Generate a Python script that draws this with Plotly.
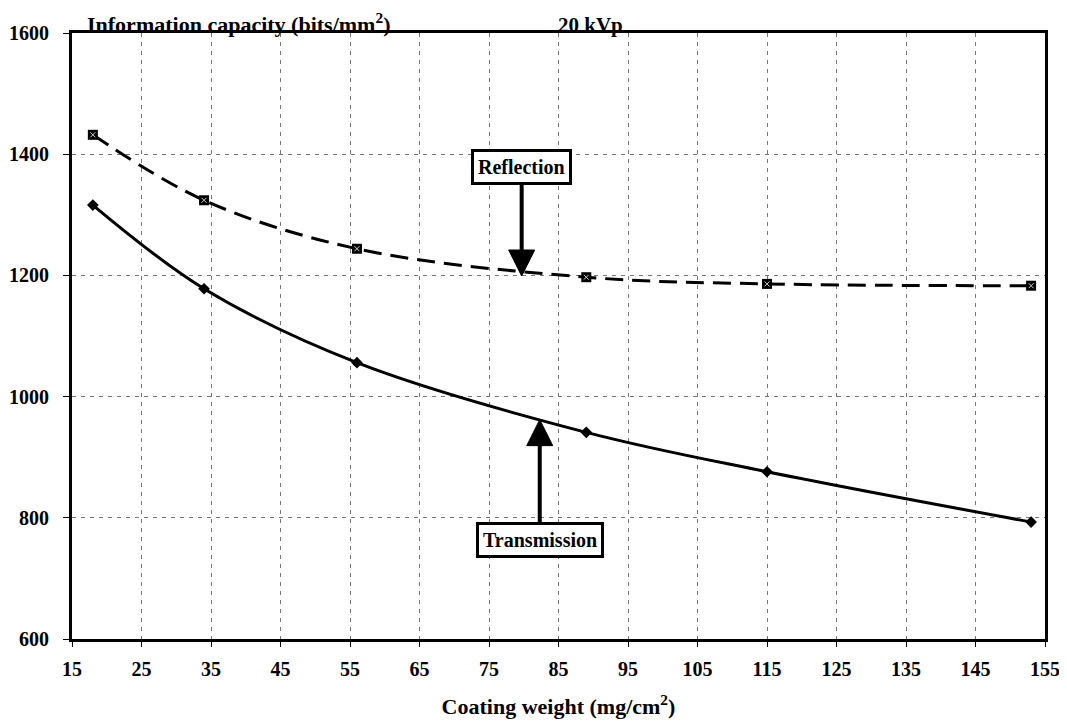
import plotly.graph_objects as go

coating_weight = [18, 34, 56, 89, 115, 153]
reflection = [1432, 1324, 1244, 1197, 1186, 1183]
transmission = [1316, 1178, 1056, 941, 876, 793]

x_ticks = list(range(15, 156, 10))
y_ticks = [600, 800, 1000, 1200, 1400, 1600]

FONT = "Liberation Serif"

fig = go.Figure()

fig.add_trace(go.Scatter(
    x=coating_weight, y=reflection, mode="lines",
    line=dict(color="black", width=3, dash="18px,9px", shape="spline"),
    showlegend=False, hoverinfo="skip"))
fig.add_trace(go.Scatter(
    x=coating_weight, y=reflection, mode="markers",
    marker=dict(symbol="square", size=10, color="black"),
    showlegend=False))
fig.add_trace(go.Scatter(
    x=coating_weight, y=reflection, mode="markers",
    marker=dict(symbol="x-thin-open", size=5, color="#cccccc",
                line=dict(color="#cccccc", width=1)),
    showlegend=False, hoverinfo="skip"))
fig.add_trace(go.Scatter(
    x=coating_weight, y=transmission, mode="lines+markers",
    line=dict(color="black", width=3, shape="spline"),
    marker=dict(symbol="diamond", size=9, color="black"),
    showlegend=False))

fig.update_xaxes(
    range=[15, 155], tickvals=x_ticks, ticktext=[str(v) for v in x_ticks],
    showline=True, linecolor="black", linewidth=3, mirror=True,
    ticks="outside", ticklen=5, tickcolor="black", tickwidth=1,
    ticklabelstandoff=5,
    showgrid=True, gridcolor="#777777", gridwidth=1, griddash="4px,5px",
    zeroline=False, automargin=False,
    tickfont=dict(family=FONT, size=20, color="black", weight="bold"),
    title=dict(text="<b>Coating weight (mg/cm<sup>2</sup>)</b>",
               font=dict(family=FONT, size=22, color="black"), standoff=20),
)
fig.update_yaxes(
    range=[600, 1600], tickvals=y_ticks, ticktext=[str(v) for v in y_ticks],
    showline=True, linecolor="black", linewidth=3, mirror=True,
    ticks="outside", ticklen=6, tickcolor="black", tickwidth=1,
    ticklabelstandoff=10,
    showgrid=True, gridcolor="#777777", gridwidth=1, griddash="4px,5px",
    zeroline=False, automargin=False,
    tickfont=dict(family=FONT, size=20, color="black", weight="bold"),
)

fig.add_annotation(
    xref="paper", yref="paper", x=0.013, y=1.0, xanchor="left", yanchor="bottom",
    text="<b>Information capacity (bits/mm<sup>2</sup>)</b>", showarrow=False,
    font=dict(family=FONT, size=22, color="black"), yshift=-6)
fig.add_annotation(
    xref="paper", yref="paper", x=0.497, y=1.0, xanchor="left", yanchor="bottom",
    text="<b>20 kVp</b>", showarrow=False,
    font=dict(family=FONT, size=21, color="black"), yshift=-6)

# Reflection label: box with a shaft down to the curve
fig.add_annotation(
    x=79.7, y=1240, xref="x", yref="y", ax=79.7, ay=1379, axref="x", ayref="y",
    text="<b>Reflection</b>", showarrow=True, arrowhead=0,
    arrowwidth=4, arrowcolor="black", standoff=0,
    font=dict(family=FONT, size=20, color="black"),
    bgcolor="white", bordercolor="black", borderwidth=3, borderpad=4)
fig.add_shape(
    type="path", xref="x", yref="y", xsizemode="pixel", ysizemode="pixel",
    xanchor=79.7, yanchor=1199, path="M-13,26 L13,26 L0,0 Z",
    fillcolor="black", line=dict(color="black", width=1))

# Transmission label: box with a shaft up to the curve
fig.add_annotation(
    x=82.3, y=925, xref="x", yref="y", ax=82.3, ay=764, axref="x", ayref="y",
    text="<b>Transmission</b>", showarrow=True, arrowhead=0,
    arrowwidth=4, arrowcolor="black", standoff=0,
    font=dict(family=FONT, size=20, color="black"),
    bgcolor="white", bordercolor="black", borderwidth=3, borderpad=4)
fig.add_shape(
    type="path", xref="x", yref="y", xsizemode="pixel", ysizemode="pixel",
    xanchor=82.3, yanchor=962, path="M-13,-26 L13,-26 L0,0 Z",
    fillcolor="black", line=dict(color="black", width=1))

# The page adds an 8px body margin, so the figure is sized to compensate.
fig.update_layout(
    width=1059, height=715,
    margin=dict(l=64, r=22, t=25, b=84, autoexpand=False),
    paper_bgcolor="white", plot_bgcolor="white",
    font=dict(family=FONT, color="black"),
)

fig.write_html("out.html")
